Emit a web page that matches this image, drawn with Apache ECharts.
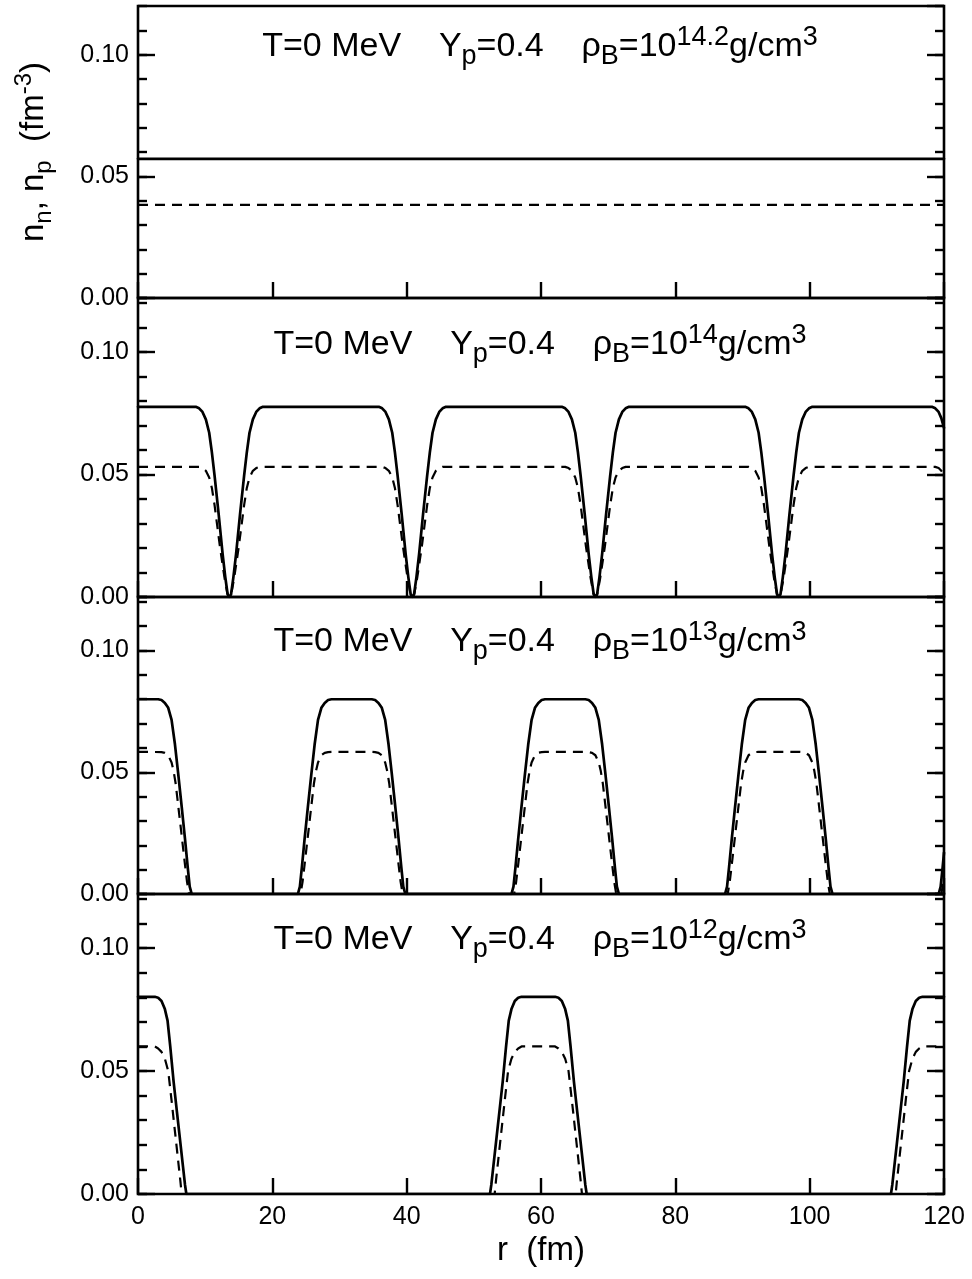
<!DOCTYPE html>
<html><head><meta charset="utf-8">
<script src="https://cdn.jsdelivr.net/npm/echarts@6/dist/echarts.min.js"></script>
<style>html,body{margin:0;padding:0;background:#fff}#c{width:972px;height:1279px}</style>
</head><body><div id="c"></div>
<script>
// r (fm) vs density (fm^-3); solid = n_n, dashed = n_p
const nn1 = [[0,0.0572],[120,0.0572]];
const np1 = [[0,0.0383],[120,0.0383]];

const nn2 = [[0,.0776],[8.6,.0776],[9.1,.0770],[9.6,.0755],[10.1,.0725],[10.6,.0670],[11.0,.0590],[11.4,.0495],[12.0,.0340],[12.6,.0175],[13.0,.0080],[13.35,.0010],[13.6,0],[13.85,.0010],[14.2,.0080],[14.6,.0175],[15.2,.0340],[15.8,.0495],[16.2,.0590],[16.6,.0670],[17.1,.0725],[17.6,.0755],[18.1,.0770],[18.6,.0776],
[35.85,.0776],[36.35,.0770],[36.85,.0755],[37.35,.0725],[37.85,.0670],[38.25,.0590],[38.65,.0495],[39.25,.0340],[39.85,.0175],[40.25,.0080],[40.6,.0010],[40.85,0],[41.1,.0010],[41.45,.0080],[41.85,.0175],[42.45,.0340],[43.05,.0495],[43.45,.0590],[43.85,.0670],[44.35,.0725],[44.85,.0755],[45.35,.0770],[45.85,.0776],
[63.1,.0776],[63.6,.0770],[64.1,.0755],[64.6,.0725],[65.1,.0670],[65.5,.0590],[65.9,.0495],[66.5,.0340],[67.1,.0175],[67.5,.0080],[67.85,.0010],[68.1,0],[68.35,.0010],[68.7,.0080],[69.1,.0175],[69.7,.0340],[70.3,.0495],[70.7,.0590],[71.1,.0670],[71.6,.0725],[72.1,.0755],[72.6,.0770],[73.1,.0776],
[90.4,.0776],[90.9,.0770],[91.4,.0755],[91.9,.0725],[92.4,.0670],[92.8,.0590],[93.2,.0495],[93.8,.0340],[94.4,.0175],[94.8,.0080],[95.15,.0010],[95.4,0],[95.65,.0010],[96.0,.0080],[96.4,.0175],[97.0,.0340],[97.6,.0495],[98.0,.0590],[98.4,.0670],[98.9,.0725],[99.4,.0755],[99.9,.0770],[100.4,.0776],
[118.2,.0776],[118.7,.0770],[119.2,.0755],[119.6,.0730],[120,.0690]];

const np2 = [[0,.0531],[9.1,.0531],[9.6,.0526],[10.1,.0515],[10.6,.0488],[11.0,.0445],[11.4,.0375],[11.8,.0290],[12.2,.0205],[12.6,.0130],[12.9,.0075],[13.3,.0015],[13.6,0],[13.9,.0015],[14.3,.0075],[14.6,.0130],[15.0,.0205],[15.4,.0290],[15.8,.0375],[16.2,.0445],[16.6,.0488],[17.1,.0515],[17.6,.0526],[18.1,.0531],
[36.35,.0531],[36.85,.0526],[37.35,.0515],[37.85,.0488],[38.25,.0445],[38.65,.0375],[39.05,.0290],[39.45,.0205],[39.85,.0130],[40.15,.0075],[40.55,.0015],[40.85,0],[41.15,.0015],[41.55,.0075],[41.85,.0130],[42.25,.0205],[42.65,.0290],[43.05,.0375],[43.45,.0445],[43.85,.0488],[44.35,.0515],[44.85,.0526],[45.35,.0531],
[63.6,.0531],[64.1,.0526],[64.6,.0515],[65.1,.0488],[65.5,.0445],[65.9,.0375],[66.3,.0290],[66.7,.0205],[67.1,.0130],[67.4,.0075],[67.8,.0015],[68.1,0],[68.4,.0015],[68.8,.0075],[69.1,.0130],[69.5,.0205],[69.9,.0290],[70.3,.0375],[70.7,.0445],[71.1,.0488],[71.6,.0515],[72.1,.0526],[72.6,.0531],
[90.9,.0531],[91.4,.0526],[91.9,.0515],[92.4,.0488],[92.8,.0445],[93.2,.0375],[93.6,.0290],[94.0,.0205],[94.4,.0130],[94.7,.0075],[95.1,.0015],[95.4,0],[95.7,.0015],[96.1,.0075],[96.4,.0130],[96.8,.0205],[97.2,.0290],[97.6,.0375],[98.0,.0445],[98.4,.0488],[98.9,.0515],[99.4,.0526],[99.9,.0531],
[118.7,.0531],[119.2,.0526],[119.6,.0515],[120,.0500]];

const nn3 = [[0,.0800],[3.0,.0800],[3.5,.0797],[4.0,.0785],[4.5,.0765],[5.0,.0715],[5.5,.0615],[6.0,.0490],[6.5,.0360],[7.0,.0225],[7.4,.0110],[7.7,.0030],[8.0,0],
[23.8,0],[24.1,.0030],[24.4,.0110],[24.8,.0225],[25.3,.0360],[25.8,.0490],[26.3,.0615],[26.8,.0715],[27.3,.0765],[27.8,.0785],[28.3,.0797],[28.8,.0800],[34.8,.0800],[35.3,.0797],[35.8,.0785],[36.3,.0765],[36.8,.0715],[37.3,.0615],[37.8,.0490],[38.3,.0360],[38.8,.0225],[39.2,.0110],[39.5,.0030],[39.8,0],
[55.6,0],[55.9,.0030],[56.2,.0110],[56.6,.0225],[57.1,.0360],[57.6,.0490],[58.1,.0615],[58.6,.0715],[59.1,.0765],[59.6,.0785],[60.1,.0797],[60.6,.0800],[66.6,.0800],[67.1,.0797],[67.6,.0785],[68.1,.0765],[68.6,.0715],[69.1,.0615],[69.6,.0490],[70.1,.0360],[70.6,.0225],[71.0,.0110],[71.3,.0030],[71.6,0],
[87.4,0],[87.7,.0030],[88.0,.0110],[88.4,.0225],[88.9,.0360],[89.4,.0490],[89.9,.0615],[90.4,.0715],[90.9,.0765],[91.4,.0785],[91.9,.0797],[92.4,.0800],[98.4,.0800],[98.9,.0797],[99.4,.0785],[99.9,.0765],[100.4,.0715],[100.9,.0615],[101.4,.0490],[101.9,.0360],[102.4,.0225],[102.8,.0110],[103.1,.0030],[103.4,0],
[119.2,0],[119.5,.0030],[119.8,.0110],[120,.0170]];

const np3 = [[0,.0584],[3.5,.0583],[4.0,.0580],[4.5,.0570],[5.0,.0540],[5.3,.0505],[5.6,.0455],[6.0,.0360],[6.5,.0240],[7.0,.0120],[7.3,.0050],[7.6,0],
[24.2,0],[24.5,.0050],[24.8,.0120],[25.3,.0240],[25.8,.0360],[26.2,.0455],[26.5,.0505],[26.8,.0540],[27.3,.0570],[27.8,.0580],[28.3,.0583],[28.8,.0584],[34.8,.0584],[35.3,.0583],[35.8,.0580],[36.3,.0570],[36.8,.0540],[37.1,.0505],[37.4,.0455],[37.8,.0360],[38.3,.0240],[38.8,.0120],[39.1,.0050],[39.4,0],
[56.0,0],[56.3,.0050],[56.6,.0120],[57.1,.0240],[57.6,.0360],[58.0,.0455],[58.3,.0505],[58.6,.0540],[59.1,.0570],[59.6,.0580],[60.1,.0583],[60.6,.0584],[66.6,.0584],[67.1,.0583],[67.6,.0580],[68.1,.0570],[68.6,.0540],[68.9,.0505],[69.2,.0455],[69.6,.0360],[70.1,.0240],[70.6,.0120],[70.9,.0050],[71.2,0],
[87.8,0],[88.1,.0050],[88.4,.0120],[88.9,.0240],[89.4,.0360],[89.8,.0455],[90.1,.0505],[90.4,.0540],[90.9,.0570],[91.4,.0580],[91.9,.0583],[92.4,.0584],[98.4,.0584],[98.9,.0583],[99.4,.0580],[99.9,.0570],[100.4,.0540],[100.7,.0505],[101.0,.0455],[101.4,.0360],[101.9,.0240],[102.4,.0120],[102.7,.0050],[103.0,0],
[119.6,0],[119.9,.0050],[120,.0075]];

const nn4 = [[0,.0802],[2.5,.0802],[3.0,.0798],[3.5,.0785],[4.0,.0752],[4.4,.0705],[4.8,.0600],[5.3,.0457],[5.8,.0333],[6.3,.0210],[6.7,.0111],[7.0,.0037],[7.2,0],
[52.4,0],[52.6,.0037],[52.9,.0111],[53.3,.0210],[53.8,.0333],[54.3,.0457],[54.8,.0600],[55.2,.0705],[55.6,.0752],[56.1,.0785],[56.6,.0798],[57.1,.0802],[62.1,.0802],[62.6,.0798],[63.1,.0785],[63.6,.0752],[64.0,.0705],[64.4,.0600],[64.9,.0457],[65.4,.0333],[65.9,.0210],[66.3,.0111],[66.6,.0037],[66.8,0],
[112.1,0],[112.3,.0037],[112.6,.0111],[113.0,.0210],[113.5,.0333],[114.0,.0457],[114.5,.0600],[114.9,.0705],[115.3,.0752],[115.8,.0785],[116.3,.0798],[116.8,.0802],[120,.0802]];

const np4 = [[0,.0600],[2.5,.0600],[3.0,.0592],[3.5,.0578],[4.0,.0550],[4.5,.0500],[5.0,.0380],[5.5,.0255],[6.0,.0130],[6.3,.0055],[6.5,0],
[53.1,0],[53.3,.0055],[53.6,.0130],[54.1,.0255],[54.6,.0380],[55.1,.0500],[55.6,.0550],[56.1,.0578],[56.6,.0592],[57.1,.0600],[62.1,.0600],[62.6,.0592],[63.1,.0578],[63.6,.0550],[64.1,.0500],[64.6,.0380],[65.1,.0255],[65.6,.0130],[65.9,.0055],[66.1,0],
[112.8,0],[113.0,.0055],[113.3,.0130],[113.8,.0255],[114.3,.0380],[114.8,.0500],[115.3,.0550],[115.8,.0578],[116.3,.0592],[116.8,.0600],[120,.0600]];

const neutronSeries = [nn1, nn2, nn3, nn4];
const protonSeries = [np1, np2, np3, np4];
const densityExponents = ['14.2', '14', '13', '12'];
const yMaxes = [0.12, 0.122, 0.122, 0.122];
const xRange = [0, 120];
const xTickStep = 20;
const yMajorStep = 0.05;
const yMinorStep = 0.01;

const FONT = "'Liberation Sans', Arial, Helvetica, sans-serif";
const gridBoxes = [
  {top: 6, height: 292},
  {top: 298, height: 299},
  {top: 597, height: 297},
  {top: 894, height: 300}
];
const labelY = [47, 345, 642, 940];

function fmt(v) {
  const k = v / yMajorStep;
  return Math.abs(k - Math.round(k)) < 1e-6 ? v.toFixed(2) : '';
}

const grid = [], xAxis = [], yAxis = [], series = [], graphic = [];
gridBoxes.forEach((b, g) => {
  grid.push({left: 138, right: 28, top: b.top, height: b.height, show: true,
    borderColor: '#000', borderWidth: 2.6, backgroundColor: 'transparent'});
  xAxis.push({type: 'value', gridIndex: g, min: xRange[0], max: xRange[1], interval: xTickStep,
    axisLine: {show: false}, splitLine: {show: false},
    axisTick: {show: true, inside: true, length: 16, lineStyle: {color: '#000', width: 2.4}},
    axisLabel: {show: g === 3, fontSize: 25, color: '#000', fontFamily: FONT, margin: 11},
    name: g === 3 ? 'r  (fm)' : '', nameLocation: 'middle', nameGap: 40,
    nameTextStyle: {fontSize: 33, color: '#000', fontFamily: FONT}});
  ['left', 'right'].forEach(side => {
    [true, false].forEach(major => {
      yAxis.push({type: 'value', gridIndex: g, position: side, min: 0, max: yMaxes[g],
        interval: major ? yMajorStep : yMinorStep,
        axisLine: {show: false}, splitLine: {show: false},
        axisTick: {show: true, inside: true, length: major ? 17 : 9, lineStyle: {color: '#000', width: 2.4}},
        axisLabel: {show: major && side === 'left', formatter: fmt, showMaxLabel: false,
          fontSize: 25, color: '#000', fontFamily: FONT, margin: 9}});
    });
  });
  series.push({type: 'line', xAxisIndex: g, yAxisIndex: 4 * g, data: neutronSeries[g],
    symbol: 'none', smooth: false, animation: false,
    lineStyle: {color: '#000', width: 2.7, type: 'solid', join: 'round', cap: 'round'}});
  series.push({type: 'line', xAxisIndex: g, yAxisIndex: 4 * g, data: protonSeries[g],
    symbol: 'none', smooth: false, animation: false,
    lineStyle: {color: '#000', width: 2.2, type: [10, 7]}});
  graphic.push({type: 'text', x: 540, y: labelY[g], z: 100,
    style: {text: 'T=0 MeV    Y{s|p}=0.4    \u03c1{s|B}=10{u|' + densityExponents[g] + '}g/cm{u|3}',
      font: '34px ' + FONT, fill: '#000', lineHeight: 46, align: 'center', verticalAlign: 'middle',
      rich: {s: {fontSize: 27, fontFamily: FONT, lineHeight: 26, verticalAlign: 'bottom'},
             u: {fontSize: 27, fontFamily: FONT, lineHeight: 20, verticalAlign: 'top'}}}});
});
graphic.push({type: 'text', x: 34, y: 152, rotation: Math.PI / 2, z: 100,
  style: {text: 'n{s|n}, n{s|p}  (fm{u|-3})', font: '33px ' + FONT, fill: '#000', lineHeight: 44,
    align: 'center', verticalAlign: 'middle',
    rich: {s: {fontSize: 24, fontFamily: FONT, lineHeight: 24, verticalAlign: 'bottom'},
           u: {fontSize: 24, fontFamily: FONT, lineHeight: 19, verticalAlign: 'top'}}}});

const chart = echarts.init(document.getElementById('c'), null, {renderer: 'canvas'});
chart.setOption({animation: false, backgroundColor: '#fff', grid, xAxis, yAxis, series, graphic});
</script></body></html>
